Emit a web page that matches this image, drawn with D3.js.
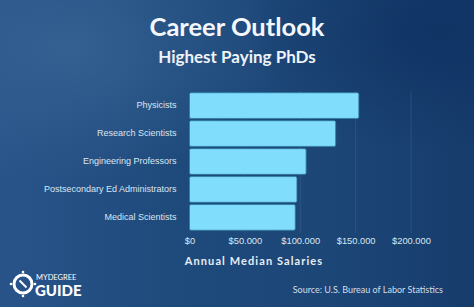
<!DOCTYPE html>
<html>
  <head>
    <meta charset="UTF-8" />
    <script src="https://cdnjs.cloudflare.com/ajax/libs/d3/7.8.5/d3.min.js"></script>
    <style>
      body { margin: 0; background: #1d4677; }
      svg { display: block; font-family: "Lato", "Open Sans", sans-serif; }
    </style>
  </head>
  <body>
    <svg id="chart" width="474" height="307"></svg>
    <script>
      const categories = [
        "Physicists",
        "Research Scientists",
        "Engineering Professors",
        "Postsecondary Ed Administrators",
        "Medical Scientists"
      ];
      const salaries = [152900, 132000, 105300, 97000, 95500];
      const tickValues = [0, 50000, 100000, 150000, 200000];
      const tickLabels = ["$0", "$50.000", "$100.000", "$150.000", "$200.000"];

      const svg = d3.select("#chart");
      const W = 474, H = 307;

      // background gradients
      const defs = svg.append("defs");
      const bg = defs.append("linearGradient").attr("id", "bg")
        .attr("x1", 0).attr("y1", 0).attr("x2", 1).attr("y2", 0);
      bg.append("stop").attr("offset", "0%").attr("stop-color", "#29548a");
      bg.append("stop").attr("offset", "35%").attr("stop-color", "#1e4a7c");
      bg.append("stop").attr("offset", "70%").attr("stop-color", "#1c4676");
      bg.append("stop").attr("offset", "100%").attr("stop-color", "#163c6c");
      const glow = defs.append("radialGradient").attr("id", "glow")
        .attr("cx", 0.15).attr("cy", 0.15).attr("r", 0.45);
      glow.append("stop").attr("offset", "0%").attr("stop-color", "#3a6697").attr("stop-opacity", 0.7);
      glow.append("stop").attr("offset", "100%").attr("stop-color", "#3a6697").attr("stop-opacity", 0);
      const dark = defs.append("radialGradient").attr("id", "dark")
        .attr("cx", 0.92).attr("cy", 0.1).attr("r", 0.4);
      dark.append("stop").attr("offset", "0%").attr("stop-color", "#0f3263").attr("stop-opacity", 0.9);
      dark.append("stop").attr("offset", "100%").attr("stop-color", "#0f3263").attr("stop-opacity", 0);

      svg.append("rect").attr("width", W).attr("height", H).attr("fill", "url(#bg)");
      svg.append("rect").attr("width", W).attr("height", H).attr("fill", "url(#glow)");
      svg.append("rect").attr("width", W).attr("height", H).attr("fill", "url(#dark)");

      // titles
      svg.append("text").attr("x", 237).attr("y", 36)
        .attr("text-anchor", "middle").attr("fill", "#f4f7fb")
        .style("font-size", "25.5px").style("font-weight", "700")
        .text("Career Outlook");
      svg.append("text").attr("x", 237).attr("y", 63)
        .attr("text-anchor", "middle").attr("fill", "#eef3f8")
        .style("font-size", "17px").style("font-weight", "700")
        .text("Highest Paying PhDs");

      const x = d3.scaleLinear().domain([0, 200000]).range([189.5, 411]);
      const y = d3.scaleBand().domain(categories).range([90.5, 232.5]).padding(0.08);

      // gridlines
      svg.append("g").selectAll("line")
        .data(tickValues.slice(1))
        .join("line")
        .attr("x1", d => x(d)).attr("x2", d => x(d))
        .attr("y1", 91).attr("y2", 233)
        .attr("stroke", "#5a7fa8").attr("stroke-opacity", 0.35)
        .attr("stroke-width", 0.8);

      // bars
      svg.append("g").selectAll("rect")
        .data(categories)
        .join("rect")
        .attr("x", x(0))
        .attr("y", d => y(d))
        .attr("width", (d, i) => x(salaries[i]) - x(0))
        .attr("height", y.bandwidth())
        .attr("rx", 1.5)
        .attr("fill", "#80ddfb")
        .attr("stroke", "#2f7ba3")
        .attr("stroke-width", 0.8);

      // category axis
      const yAxis = d3.axisLeft(y).tickSize(0).tickPadding(13);
      const yg = svg.append("g").attr("transform", `translate(${x(0)},0)`).call(yAxis);
      yg.select(".domain").remove();
      yg.selectAll("text").attr("fill", "#dce6f0").style("font-size", "9px");

      // value axis
      const xAxis = d3.axisBottom(x).tickValues(tickValues)
        .tickFormat((d, i) => tickLabels[i]).tickSize(0).tickPadding(5);
      const xg = svg.append("g").attr("transform", "translate(0,232)").call(xAxis);
      xg.select(".domain").remove();
      xg.selectAll("text").attr("fill", "#dce6f0").style("font-size", "9.3px");

      svg.append("text").attr("x", 254).attr("y", 265)
        .attr("text-anchor", "middle").attr("fill", "#e8eef5")
        .style("font-size", "11px").style("font-weight", "700")
        .style("letter-spacing", "1.1px")
        .text("Annual Median Salaries");

      svg.append("text").attr("x", 443).attr("y", 293)
        .attr("text-anchor", "end").attr("fill", "#d3deea")
        .style("font-size", "9px")
        .text("Source: U.S. Bureau of Labor Statistics");

      // logo
      const logo = svg.append("g").attr("transform", "translate(23,284)");
      logo.append("circle").attr("r", 9).attr("fill", "none")
        .attr("stroke", "#ffffff").attr("stroke-width", 3);
      logo.append("line").attr("x1", -3.5).attr("y1", -3.5).attr("x2", 3.5).attr("y2", 3.5)
        .attr("stroke", "#ffffff").attr("stroke-width", 2);
      [[0, -12], [0, 12], [-12, 0], [12, 0]].forEach(p => {
        logo.append("circle").attr("cx", p[0]).attr("cy", p[1]).attr("r", 1.3).attr("fill", "#ffffff");
      });
      svg.append("text").attr("x", 36).attr("y", 280)
        .attr("fill", "#ffffff").style("font-size", "7.5px")
        .text("MYDEGREE");
      svg.append("text").attr("x", 35).attr("y", 296)
        .attr("fill", "#ffffff").style("font-size", "15px").style("font-weight", "900")
        .text("GUIDE");
    </script>
  </body>
</html>
